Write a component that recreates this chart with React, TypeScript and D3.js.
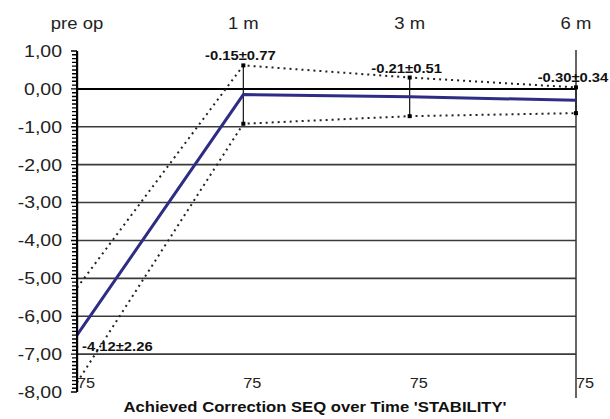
import React from 'react';
import * as d3 from 'd3';

const timepoints = ['pre op', '1 m', '3 m', '6 m'];
const means = [-6.5, -0.15, -0.21, -0.3];
const spreads = [1.25, 0.77, 0.51, 0.34];
const valueLabels = ['-4.12\u00b12.26', '-0.15\u00b10.77', '-0.21\u00b10.51', '-0.30\u00b10.34'];
const counts = ['75', '75', '75', '75'];
const yTicks = [1, 0, -1, -2, -3, -4, -5, -6, -7, -8];
const gridValues = [0, -1, -2, -3, -4, -5, -6, -7];
const title = "Achieved Correction SEQ over Time 'STABILITY'";

const W = 610;
const H = 419;
const font = 'Liberation Sans, Arial, sans-serif';

// text a little wider than the font, like the scanned original
function Wide(props: any) {
  const { x, y, sx = 1.15, children, ...rest } = props;
  return (
    <g transform={`translate(${x},${y}) scale(${sx},1)`}>
      <text {...rest}>{children}</text>
    </g>
  );
}

export default function App() {
  const x = d3.scalePoint<string>().domain(timepoints).range([77, 576]);
  const y = d3.scaleLinear().domain([1, -8]).range([51, 392]);

  const pts = timepoints.map((t, i) => ({
    x: x(t) as number,
    mean: means[i],
    hi: means[i] + spreads[i],
    lo: means[i] - spreads[i],
  }));

  const meanLine = d3.line<any>().x(d => d.x).y(d => y(d.mean))(pts) || '';
  const hiLine = d3.line<any>().x(d => d.x).y(d => y(d.hi))(pts) || '';
  const loLine = d3.line<any>().x(d => d.x).y(d => y(d.lo))(pts) || '';

  const minor = d3.range(10, -81, -1).map(v => v / 10);
  const fmt = (v: number) => v.toFixed(2).replace('.', ',');
  const x0 = x(timepoints[0]) as number;
  const xEnd = x(timepoints[timepoints.length - 1]) as number;

  const tickPath = minor.map(v => {
    const major = Math.abs(v - Math.round(v)) < 1e-6;
    return `M${x0 - (major ? 6 : 5)},${y(v)}H${x0}`;
  }).join('');

  return (
    <svg width={W} height={H} style={{ position: 'absolute', left: 0, top: 0, background: '#fff' }} fontFamily={font}>
      {/* grid lines */}
      {gridValues.map(v => (
        <line key={v} x1={x0} x2={xEnd} y1={y(v)} y2={y(v)}
          stroke={v === 0 ? '#000' : '#3a3a3a'} strokeWidth={v === 0 ? 2 : 1.6} />
      ))}
      {/* right border */}
      <path d={`M${xEnd},${y(1) - 1}V${y(-8) + 6}`} stroke="#333" strokeWidth={1.5} fill="none" />

      {/* dotted spread lines */}
      <path d={hiLine} fill="none" stroke="#222" strokeWidth={2} strokeDasharray="2 4" />
      <path d={loLine} fill="none" stroke="#222" strokeWidth={2} strokeDasharray="2 4" />

      {/* error bars */}
      {pts.slice(1).map((p, i) => (
        <g key={i}>
          <line x1={p.x} x2={p.x} y1={y(p.hi)} y2={y(p.lo)} stroke="#111" strokeWidth={1.2} />
          <rect x={p.x - 2} y={y(p.hi) - 2} width={4} height={4} fill="#000" />
          <rect x={p.x - 2} y={y(p.lo) - 2} width={4} height={4} fill="#000" />
        </g>
      ))}

      {/* mean line */}
      <path d={meanLine} fill="none" stroke="#2e2c84" strokeWidth={3} />

      {yTicks.map(v => (
        <Wide key={v} x={62} y={y(v)} sx={1.18} dy="0.36em" textAnchor="end" fontSize={16.5} fill="#222">{fmt(v)}</Wide>
      ))}

      {/* top time labels */}
      {timepoints.map(t => (
        <Wide key={t} x={x(t)} y={29} sx={1.12} textAnchor="middle" fontSize={16.5} fill="#222">{t}</Wide>
      ))}

      {/* value labels */}
      {pts.map((p, i) => i === 0 ? (
        <Wide key={i} x={p.x + 5} y={y(p.mean) + 16} sx={1.14} fontSize={13} fontWeight="bold" fill="#111">{valueLabels[i]}</Wide>
      ) : (
        <Wide key={i} x={p.x - 3} y={y(p.hi) - 5} sx={1.14} textAnchor="middle" fontSize={13} fontWeight="bold" fill="#111">{valueLabels[i]}</Wide>
      ))}

      {/* counts */}
      {pts.map((p, i) => (
        <Wide key={i} x={p.x} y={388} sx={1.05} fontSize={15.5} fill="#222">{counts[i]}</Wide>
      ))}

      <Wide x={315} y={412} sx={1.15} textAnchor="middle" fontSize={14.5} fontWeight="bold" fill="#111">{title}</Wide>

      {/* y axis with minor ticks, on top */}
      <rect x={x0 - 1} y={y(1)} width={2.2} height={y(-8) - y(1)} fill="#000" />
      <path d={tickPath} stroke="#000" strokeWidth={1.4} fill="none" />
    </svg>
  );
}
